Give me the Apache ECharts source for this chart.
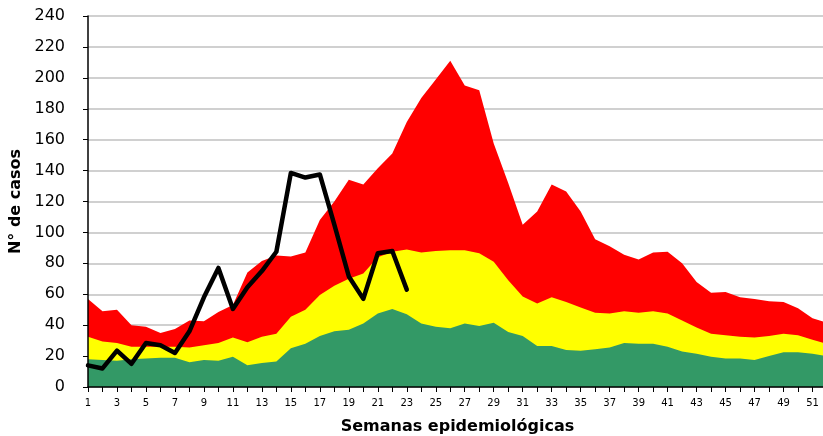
<!DOCTYPE html>
<html>
<head>
<meta charset="utf-8">
<script src="https://cdn.jsdelivr.net/npm/echarts@6/dist/echarts.min.js"></script>
<style>
 html, body { margin: 0; padding: 0; background: #fff; }
 #chart { width: 823px; height: 436px; }
</style>
</head>
<body>
<div id="chart"></div>
<script>
/** datos **/
var semanas = [];
for (var i = 1; i <= 52; i++) semanas.push(String(i));

// limite superior de cada zona (valores acumulados)
var exito = [18, 17.5, 17, 18, 18.5, 19, 19, 16, 17.5, 17, 19.5, 14, 15.5, 16.5, 25, 28, 33, 36, 37, 41,
 47.5, 50.5, 47, 41, 39, 38, 41, 39.5, 41.5, 35.5, 33, 26.5, 26.5, 24, 23.5, 24.5, 25.5, 28.5, 28, 28,
 26, 23, 21.5, 19.5, 18.5, 18.5, 17.5, 20, 22.5, 22.5, 21.5, 20];
var seguridad = [32.5, 29.5, 28.5, 26, 26, 26, 26, 25.5, 27, 28.5, 32, 29, 32.5, 34.5, 45.5, 50, 59.5, 65.5, 70, 73.5,
 84, 87.5, 89, 87, 88, 88.5, 88.5, 86.5, 81, 69, 58.5, 54, 58, 55, 51.5, 48, 47.5, 49, 48, 49,
 47.5, 43, 38.5, 34.5, 33.5, 32.5, 32, 33, 34.5, 33.5, 30.5, 28];
var alerta = [57, 49, 50, 40, 39, 35, 37.5, 43, 42.5, 48.5, 53, 74, 81.5, 85, 84.5, 87, 108, 120, 134, 131,
 141.5, 151, 171.5, 187, 199, 211, 195, 192, 157.5, 132, 105, 113.5, 131, 126.5, 113.5, 95.5, 91, 85.5, 82.5, 87,
 87.5, 80, 68, 61, 61.5, 58, 57, 55.5, 55, 51, 44.5, 41.5];
// casos del año actual (hasta semana 23)
var casos = [14, 12, 23.5, 15, 28.5, 27, 22, 36, 58, 77, 50.5, 64.5, 75, 87.5, 138.5, 135.5, 137.5, 105, 71.5, 57,
 86.5, 88, 63];

var chart = echarts.init(document.getElementById('chart'));

function zona (nombre, datos, color) {
 return {
  name: nombre,
  type: 'line',
  data: datos,
  symbol: 'none',
  lineStyle: { width: 0 },
  areaStyle: { color: color, opacity: 1 },
  silent: true
 }
}

var option = {
 animation: false,
 textStyle: { fontFamily: 'DejaVu Sans, Arial, sans-serif' },
 grid: {
  left: 88,
  right: -4,
  top: 16,
  bottom: 49,
  outerBoundsMode: 'none'
 },
 xAxis: {
  type: 'category',
  data: semanas,
  boundaryGap: false,
  z: 5,
  name: 'Semanas epidemiológicas',
  nameLocation: 'middle',
  nameGap: 32,
  nameTextStyle: { fontSize: 16, fontWeight: 'bold', color: '#000' },
  axisLine: { lineStyle: { color: '#000', width: 1.5 } },
  axisTick: { interval: 0, length: 5, lineStyle: { color: '#000' } },
  axisLabel: { interval: 1, fontSize: 10, color: '#000', margin: 11 },
  splitLine: { show: false }
 },
 yAxis: [
  {
   // solo las lineas de division, debajo de las areas
   type: 'value',
   min: 0,
   max: 240,
   interval: 20,
   axisLine: { show: false },
   axisTick: { show: false },
   axisLabel: { show: false },
   splitLine: { show: true, lineStyle: { color: '#c0c0c0', width: 1.5 } }
  },
  {
   type: 'value',
   position: 'left',
   min: 0,
   max: 240,
   interval: 20,
   z: 5,
   name: 'N° de casos',
   nameLocation: 'middle',
   nameGap: 61,
   nameTextStyle: { fontSize: 16, fontWeight: 'bold', color: '#000' },
   axisLine: { show: true, lineStyle: { color: '#000', width: 1.5 } },
   axisTick: { show: true, length: 5, lineStyle: { color: '#000' } },
   axisLabel: { fontSize: 16, color: '#000', margin: 23 },
   splitLine: { show: false }
  }
 ],
 series: [
  zona('Alerta', alerta, '#ff0000'),
  zona('Seguridad', seguridad, '#ffff00'),
  zona('Éxito', exito, '#339966'),
  {
   name: 'Casos',
   type: 'line',
   data: casos,
   symbol: 'none',
   z: 6,
   lineStyle: { color: '#000', width: 4.5, cap: 'round', join: 'round' }
  }
 ]
}
chart.setOption(option);
</script>
</body>
</html>
